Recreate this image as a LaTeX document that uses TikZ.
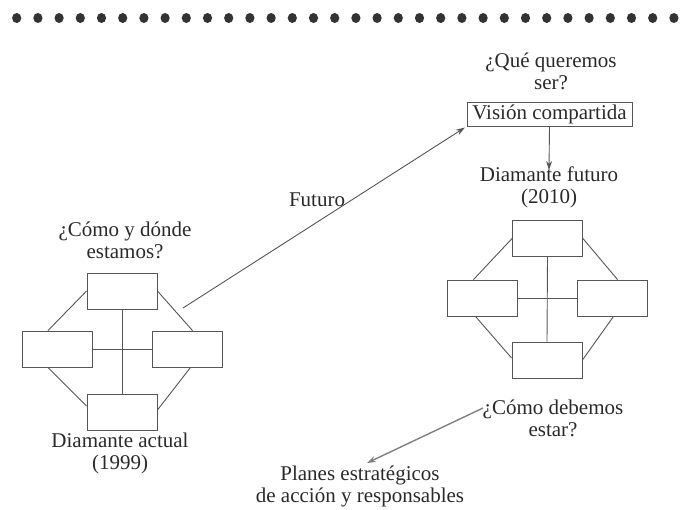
\documentclass[tikz,border=0pt]{standalone}
\usepackage{fontspec}
\setmainfont{Liberation Serif}
\usetikzlibrary{calc,arrows.meta}
\definecolor{linec}{HTML}{555555}
\definecolor{textc}{HTML}{2A2A2A}
\definecolor{dotc}{HTML}{333333}
\begin{document}
\begin{tikzpicture}[x=1pt,y=-1pt,
  lbl/.style={font=\fontsize{21}{22}\selectfont, text=textc, align=center, inner sep=0pt},
  dbox/.style={draw=linec, line width=0.9pt, minimum width=70pt, minimum height=36pt, inner sep=0pt},
  ln/.style={draw=linec, line width=0.9pt},
  arr/.style={draw=linec, line width=0.9pt, -{Stealth[length=9pt,width=6pt]}},
]
\useasboundingbox (0,0) rectangle (687,509);
% dotted rule
\foreach \i in {0,...,31} \fill[dotc] (16.7+\i*21.2,18) ellipse (4.6pt and 5pt);

% left diamond
\node[dbox] (LT) at (122,291) {};
\node[dbox] (LL) at (57,349) {};
\node[dbox] (LR) at (187.5,349) {};
\node[dbox] (LB) at (122,412) {};
\draw[ln] (LT.south) -- (LB.north);
\draw[ln] (LL.east) -- (LR.west);
\draw[ln] (LT.west) -- ($(LL.north)+(-9,0)$);
\draw[ln] (LT.east) -- ($(LR.north)+(5,0)$);
\draw[ln] ($(LL.south)+(-9,0)$) -- ($(LB.west)+(0,-6)$);
\draw[ln] ($(LR.south)+(3,0)$) -- ($(LB.east)+(0,-2)$);

% right diamond
\node[dbox] (RT) at (547.5,238.5) {};
\node[dbox] (RL) at (482.5,298) {};
\node[dbox] (RR) at (612.5,298) {};
\node[dbox] (RB) at (547,360) {};
\draw[ln] (RT.south) -- (RB.north);
\draw[ln] (RL.east) -- (RR.west);
\draw[ln] (RT.west) -- ($(RL.north)+(-9,0)$);
\draw[ln] (RT.east) -- ($(RR.north)+(5,0)$);
\draw[ln] ($(RL.south)+(-7,0)$) -- ($(RB.west)+(0,-2)$);
\draw[ln] ($(RR.south)+(1,0)$) -- ($(RB.east)+(0,0)$);

% texts
\node[lbl] (q1) at (551,71) {¿Qué queremos\\ser?};
\node[lbl, draw=linec, line width=0.9pt, minimum width=165pt, minimum height=24pt] (VC) at (549.5,114) {Visión compartida};
\node[lbl] (DF) at (549,187) {Diamante futuro\\(2010)};
\node[lbl] (q2) at (125,240) {¿Cómo y dónde\\estamos?};
\node[lbl] (DA) at (120,453) {Diamante actual\\(1999)};
\node[lbl] (q3) at (553,418) {¿Cómo debemos\\estar?};
\node[lbl] (PE) at (360,486) {Planes estratégicos\\de acción y responsables};
\node[lbl] (FU) at (317,200) {Futuro};

% arrows
\coordinate (fs) at (183,308);
\draw[arr, shorten >=2pt] (fs) -- (VC.south west);
\coordinate (vt) at (549,170);
\draw[arr] (VC.south) -- (vt);
\coordinate (cs) at (483,408);
\coordinate (ce) at (367,463);
\draw[draw=gray, line width=1.4pt, -{Stealth[length=9pt,width=6pt]}] (cs) -- (ce);
\end{tikzpicture}
\end{document}
